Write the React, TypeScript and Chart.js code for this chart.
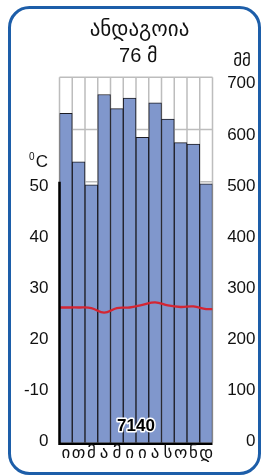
import React, { useEffect, useRef } from "react";
import { Chart, registerables } from "chart.js";

Chart.register(...registerables);

const months = ["ი", "თ", "მ", "ა", "მ", "ი", "ი", "ა", "ს", "ო", "ნ", "დ"];
const precipitation = [631, 538, 494, 667, 640, 660, 585, 651, 620, 575, 572, 496];
const temperature = [25.9, 25.9, 25.8, 24.9, 25.8, 25.9, 26.4, 26.9, 26.3, 26.0, 26.1, 25.6];
const rightTicks = [0, 100, 200, 300, 400, 500, 600, 700];
const leftTickValues = [0, 100, 200, 300, 400, 500];
const leftTickLabels = ["0", "-10", "20", "30", "40", "50"];
const stationName = "ანდაგოია";
const elevation = "76 მ";
const totalPrecip = "7140";
const precipUnit = "მმ";
const tempUnit = "C";

export default function App() {
  const ref = useRef<HTMLCanvasElement | null>(null);

  useEffect(() => {
    const canvas = ref.current;
    if (!canvas) return;
    const sans = "'Liberation Sans', Arial, sans-serif";
    const geo = "'DejaVu Sans', sans-serif";

    const linePts = [
      { x: -0.5, y: temperature[0] },
      ...temperature.map((t, i) => ({ x: i, y: t })),
      { x: 11.5, y: temperature[11] },
    ];

    const decor = {
      id: "decor",
      beforeDatasetsDraw(chart: any) {
        const { ctx, chartArea: a, scales } = chart;
        const x = scales.x;
        const y = scales.y;
        ctx.save();
        ctx.fillStyle = "#ffffff";
        ctx.fillRect(a.left, a.top, a.right - a.left, a.bottom - a.top);
        ctx.strokeStyle = "#bdbdbd";
        ctx.lineWidth = 1.5;
        const n = months.length;
        const w = (a.right - a.left) / n;
        for (let i = 0; i <= n; i++) {
          const px = i < n ? x.getPixelForValue(i) - w / 2 : x.getPixelForValue(n - 1) + w / 2;
          ctx.beginPath();
          ctx.moveTo(px, a.top);
          ctx.lineTo(px, a.bottom);
          ctx.stroke();
        }
        for (const v of [500, 600, 700]) {
          const py = y.getPixelForValue(v);
          ctx.beginPath();
          ctx.moveTo(a.left, py);
          ctx.lineTo(a.right, py);
          ctx.stroke();
        }
        ctx.restore();
      },
      afterDatasetsDraw(chart: any) {
        const { ctx, chartArea: a, scales } = chart;
        const x = scales.x;
        const y = scales.y;
        const lab = (v: number) => y.getPixelForValue(v) - 1 + 7.5 * (v / 700);
        ctx.save();
        ctx.strokeStyle = "#000";
        ctx.lineWidth = 2.5;
        ctx.beginPath();
        ctx.moveTo(a.left, y.getPixelForValue(500));
        ctx.lineTo(a.left, y.getPixelForValue(0) + 1);
        ctx.lineTo(a.right, y.getPixelForValue(0) + 1);
        ctx.stroke();

        ctx.fillStyle = "#111";
        ctx.textBaseline = "middle";
        ctx.font = `17px ${sans}`;
        ctx.textAlign = "right";
        for (const v of rightTicks) {
          ctx.fillText(String(v), 255.5, lab(v));
        }
        leftTickValues.forEach((v, i) => {
          ctx.fillText(leftTickLabels[i], 48.5, lab(v));
        });
        ctx.font = `17px ${sans}`;
        ctx.fillText(tempUnit, 48, 162);
        ctx.font = `10px ${sans}`;
        ctx.fillText("0", 34.5, 157.5);
        ctx.font = `17px ${geo}`;
        ctx.fillText(precipUnit, 251, 62);
        ctx.textAlign = "center";
        ctx.font = `21px ${geo}`;
        ctx.fillText(stationName, 139.5, 31);
        ctx.font = `20px ${sans}`;
        ctx.fillText(elevation, 138, 56);
        ctx.font = `17px ${geo}`;
        months.forEach((m, i) => {
          ctx.fillText(m, x.getPixelForValue(i), 453.5);
        });
        ctx.font = `bold 17px ${sans}`;
        ctx.lineWidth = 3;
        ctx.strokeStyle = "#fff";
        ctx.lineJoin = "round";
        const cx = (a.left + a.right) / 2;
        ctx.strokeText(totalPrecip, cx, 426);
        ctx.fillStyle = "#000";
        ctx.fillText(totalPrecip, cx, 426);
        ctx.strokeStyle = "#1d5ea9";
        ctx.lineWidth = 3;
        ctx.beginPath();
        (ctx as any).roundRect(9.5, 7.5, 250, 466, 20);
        ctx.stroke();
        ctx.restore();
      },
    };

    const chart = new Chart(canvas, {
      data: {
        labels: months,
        datasets: [
          {
            type: "line",
            data: linePts as any,
            xAxisID: "xT",
            yAxisID: "yT",
            borderColor: "#d42633",
            borderWidth: 2.3,
            pointRadius: 0,
            tension: 0.4,
            order: 0,
          } as any,
          {
            type: "bar",
            data: precipitation,
            xAxisID: "x",
            yAxisID: "y",
            backgroundColor: "#8097cc",
            borderColor: "#1b1b22",
            borderWidth: 1,
            barPercentage: 1,
            categoryPercentage: 1,
            grouped: false,
            order: 1,
          } as any,
        ],
      },
      options: {
        responsive: false,
        animation: false,
        events: [],
        layout: { padding: { left: 59.5, right: 49.5, top: 77.3, bottom: 33.3 } },
        plugins: { legend: { display: false }, tooltip: { enabled: false } },
        scales: {
          x: { type: "category", display: false, offset: true },
          xT: { type: "linear", display: false, min: -0.5, max: 11.5 },
          y: { type: "linear", display: false, min: 0, max: 700 },
          yT: { type: "linear", display: false, min: 0, max: 70 },
        },
      } as any,
      plugins: [decor],
    });
    return () => chart.destroy();
  }, []);

  return (
    <div style={{ position: "fixed", left: 0, top: 0, width: 262, height: 476, background: "#fff" }}>
      <canvas ref={ref} width={262} height={476} style={{ display: "block", width: 262, height: 476 }} />
    </div>
  );
}
